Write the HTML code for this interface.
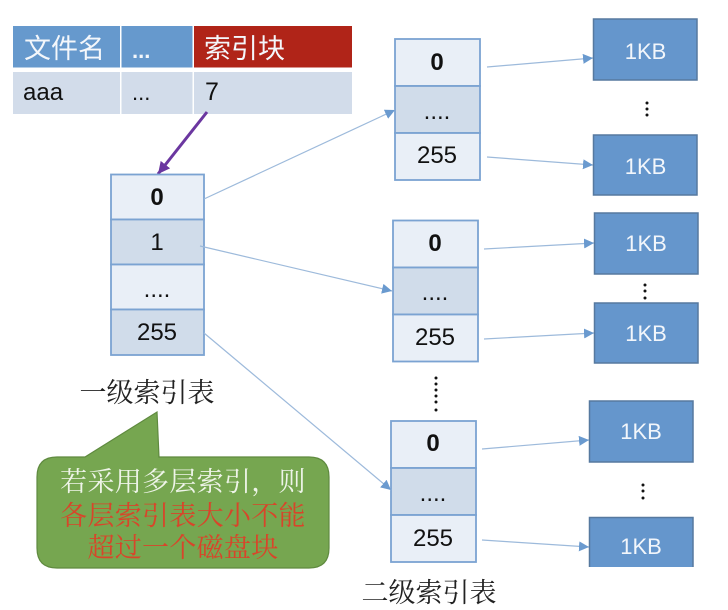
<!DOCTYPE html>
<html><head><meta charset="utf-8"><style>
html,body{margin:0;padding:0;background:#fff;width:728px;height:610px;overflow:hidden}
svg{display:block;filter:blur(.35px)}
text{font-family:"Liberation Sans","Noto Sans CJK SC",sans-serif}
.n{font-size:24px;fill:#111;text-anchor:middle}
.b{font-size:24px;font-weight:bold;fill:#111;text-anchor:middle}
.k{font-size:22px;fill:#f2f6fb;text-anchor:middle}
.s{font-family:"Noto Serif CJK SC","Liberation Serif",serif;font-size:27px;text-anchor:middle}
.h{font-family:"Noto Sans CJK SC",sans-serif;font-size:27px;fill:#f4f7fb}
.l{stroke:#9dbadb;stroke-width:1.2;fill:none}
.c1{fill:#e9eff7;stroke:#7ba3d2;stroke-width:1.8}
.c2{fill:#d0dcea;stroke:#7ba3d2;stroke-width:1.8}
.kb{fill:#6596cc;stroke:#56799f;stroke-width:1.5}
</style></head><body>
<svg width="728" height="610" viewBox="0 0 728 610" xmlns="http://www.w3.org/2000/svg">
<defs>
<marker id="a" markerUnits="userSpaceOnUse" markerWidth="11" markerHeight="11" refX="10" refY="5" orient="auto"><path d="M0 0L10 5L0 10z" fill="#6a9acf"/></marker>
<marker id="p" markerUnits="userSpaceOnUse" markerWidth="13" markerHeight="13" refX="12" refY="6" orient="auto"><path d="M0 0L12 6L0 12z" fill="#6b37a0"/></marker>
</defs>

<rect x="13" y="26" width="107" height="41.5" fill="#6699cd"/>
<rect x="121.500" y="26" width="71" height="41.5" fill="#6699cd"/>
<rect x="194" y="26" width="158" height="41.5" fill="#b02418"/>
<rect x="13" y="72" width="107" height="42" fill="#d2dcea"/>
<rect x="121.500" y="72" width="71" height="42" fill="#d2dcea"/>
<rect x="194" y="72" width="158" height="42" fill="#d2dcea"/>
<text class="h" x="24" y="58">文件名</text>
<text x="132" y="58" font-size="22" font-weight="bold" fill="#f4f7fb">...</text>
<text class="h" x="204" y="58">索引块</text>
<text x="23" y="100" font-size="24" fill="#111">aaa</text>
<text x="132" y="100" font-size="22" fill="#111">...</text>
<text x="205" y="100" font-size="25" fill="#111">7</text>

<line x1="207" y1="112" x2="158" y2="174" stroke="#6b37a0" stroke-width="3" marker-end="url(#p)"/>

<rect class="c1" x="111" y="174.500" width="93" height="45"/>
<rect class="c2" x="111" y="219.500" width="93" height="45"/>
<rect class="c1" x="111" y="264.500" width="93" height="45"/>
<rect class="c2" x="111" y="309.500" width="93" height="45.500"/>
<text class="b" x="157" y="205">0</text>
<text class="n" x="157" y="250">1</text>
<text class="n" x="157" y="297">....</text>
<text class="n" x="157" y="340">255</text>

<rect class="c1" x="395" y="39" width="85" height="47"/>
<rect class="c2" x="395" y="86" width="85" height="47"/>
<rect class="c1" x="395" y="133" width="85" height="47"/>
<text class="b" x="437" y="70">0</text>
<text class="n" x="437" y="119">....</text>
<text class="n" x="437" y="163">255</text>

<rect class="c1" x="393" y="220.500" width="85" height="47"/>
<rect class="c2" x="393" y="267.500" width="85" height="47"/>
<rect class="c1" x="393" y="314.500" width="85" height="47"/>
<text class="b" x="435" y="251">0</text>
<text class="n" x="435" y="300">....</text>
<text class="n" x="435" y="345">255</text>

<rect class="c1" x="391" y="421" width="85" height="47"/>
<rect class="c2" x="391" y="468" width="85" height="47"/>
<rect class="c1" x="391" y="515" width="85" height="47"/>
<text class="b" x="433" y="451">0</text>
<text class="n" x="433" y="501">....</text>
<text class="n" x="433" y="546">255</text>

<line class="l" x1="204" y1="199" x2="395" y2="110" marker-end="url(#a)"/>
<line class="l" x1="200" y1="246" x2="392" y2="291" marker-end="url(#a)"/>
<line class="l" x1="204" y1="333" x2="391" y2="490" marker-end="url(#a)"/>
<line class="l" x1="487" y1="67" x2="593" y2="58" marker-end="url(#a)"/>
<line class="l" x1="487" y1="157" x2="593" y2="165" marker-end="url(#a)"/>
<line class="l" x1="484" y1="249" x2="594" y2="243" marker-end="url(#a)"/>
<line class="l" x1="484" y1="339" x2="594" y2="333" marker-end="url(#a)"/>
<line class="l" x1="482" y1="449" x2="589" y2="440" marker-end="url(#a)"/>
<line class="l" x1="482" y1="540" x2="589" y2="547" marker-end="url(#a)"/>

<rect class="kb" x="593.500" y="19" width="103.500" height="61"/>
<rect class="kb" x="593.500" y="135" width="103.500" height="60"/>
<rect class="kb" x="594.500" y="213" width="103.500" height="61"/>
<rect class="kb" x="594.500" y="303" width="103.500" height="60"/>
<rect class="kb" x="589.500" y="401" width="103.500" height="61"/>
<path d="M589.500 567V517.500H693V567" class="kb"/>
<rect x="585" y="567" width="115" height="6" fill="#fff"/>
<text class="k" x="645.500" y="59">1KB</text>
<text class="k" x="645.500" y="174">1KB</text>
<text class="k" x="646" y="251">1KB</text>
<text class="k" x="646" y="341">1KB</text>
<text class="k" x="641" y="439">1KB</text>
<text class="k" x="641" y="554">1KB</text>

<g fill="#111">
<circle cx="647" cy="103" r="1.500"/><circle cx="647" cy="109" r="1.500"/><circle cx="647" cy="115" r="1.500"/>
<circle cx="645" cy="285" r="1.500"/><circle cx="645" cy="291" r="1.500"/><circle cx="645" cy="298" r="1.500"/>
<circle cx="643" cy="485" r="1.500"/><circle cx="643" cy="491" r="1.500"/><circle cx="643" cy="498" r="1.500"/>
<circle cx="436" cy="378" r="1.500"/><circle cx="436" cy="384" r="1.500"/><circle cx="436" cy="390" r="1.500"/><circle cx="436" cy="396" r="1.500"/><circle cx="436" cy="402" r="1.500"/><circle cx="436" cy="410" r="1.500"/>
</g>

<text class="s" x="147" y="402" fill="#222">一级索引表</text>
<text class="s" x="429" y="602" fill="#222">二级索引表</text>

<path d="M57 457H85L157 412L159 457H309Q329 457 329 477V548Q329 568 309 568H57Q37 568 37 548V477Q37 457 57 457Z" fill="#76a650" stroke="#5f8a3f" stroke-width="1.2"/>
<text class="s" x="183" y="491" fill="#eef4e8" letter-spacing=".3">若采用多层索引，则</text>
<text class="s" x="183" y="525" fill="#d8452a" letter-spacing=".3">各层索引表大小不能</text>
<text class="s" x="183" y="557" fill="#d8452a" letter-spacing=".3">超过一个磁盘块</text>
</svg>
</body></html>
